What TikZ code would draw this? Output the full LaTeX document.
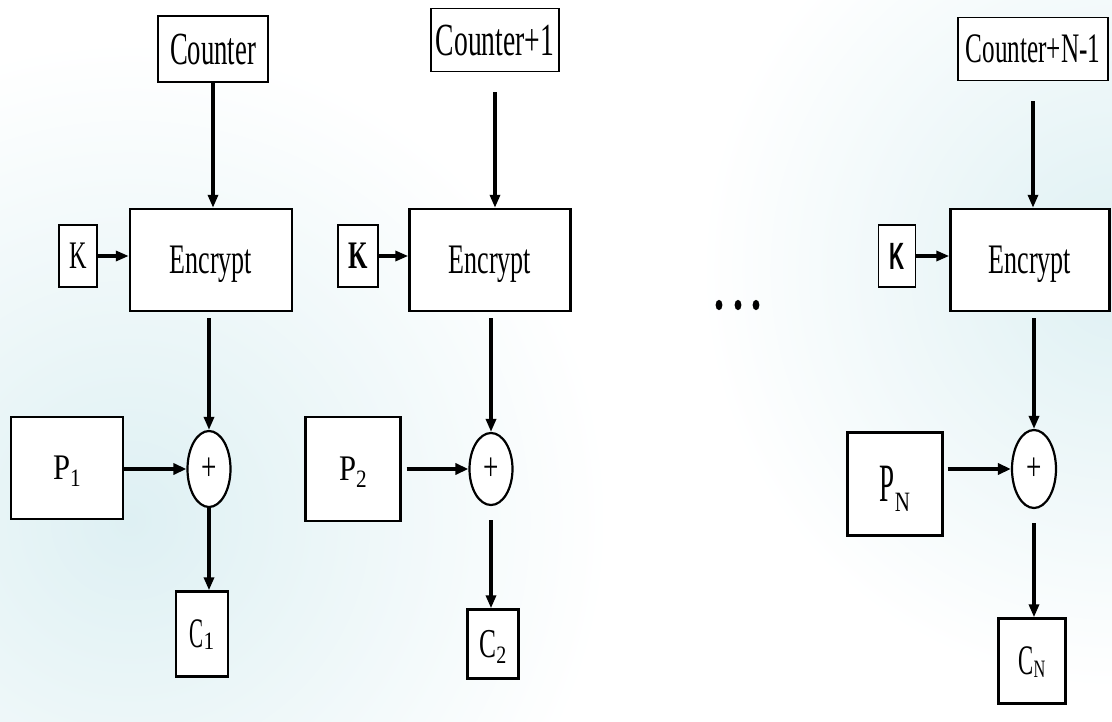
\documentclass[tikz,border=0pt]{standalone}
\usepackage{graphicx}
\usepackage{fontspec}
\setmainfont{Liberation Serif}
\setsansfont{Liberation Sans}
\usetikzlibrary{arrows.meta,shapes.geometric}

% font size shortcut, horizontal squeeze and lowered subscript
\newcommand\fs[1]{\fontsize{#1}{#1}\selectfont}
\newcommand\squeeze[2]{\scalebox{#1}[1]{#2}}
\newcommand\lowsub[3]{\raisebox{-#1pt}{\fs{#2}#3}}

\definecolor{haze}{RGB}{222,240,243}

\begin{document}
\begin{tikzpicture}[x=1pt,y=-1pt,
  box/.style={draw, line width=2.4pt, fill=white, inner sep=0pt, text depth=0pt},
  thinbox/.style={box, line width=1.6pt},
  xorop/.style={draw, ellipse, line width=2.2pt, fill=white, inner sep=0pt,
                minimum width=43, minimum height=76, text depth=0pt},
  arr/.style={line width=3.2pt, -{Triangle[length=13pt,width=10pt]}},
  parr/.style={line width=4.6pt, -{Triangle[length=13pt,width=11pt]}},
]
\useasboundingbox (0,0) rectangle (1112,722);

% soft background haze
\begin{scope}
  \clip (0,0) rectangle (620,722);
  \shade[inner color=haze, outer color=white] (130,520) circle (480pt);
\end{scope}
\begin{scope}
  \clip (620,0) rectangle (1112,722);
  \shade[inner color=haze, outer color=white] (1120,270) circle (420pt);
\end{scope}

% ---- block 1
\node[thinbox, minimum width=110, minimum height=66] (ctr1) at (213,49)
  {\fs{46}\squeeze{0.58}{Counter}};
\node[box, minimum width=162, minimum height=102] (enc1) at (211,260)
  {\fs{42}\squeeze{0.62}{Encrypt}};
\node[thinbox, minimum width=38, minimum height=62] (k1) at (78,256)
  {\fs{39}\squeeze{0.62}{K}};
\node[xorop] (x1) at (209,469) {\fs{40}\squeeze{0.68}{+}};
\node[box, minimum width=112, minimum height=102] (p1) at (67,468)
  {\squeeze{0.85}{\fs{36}P\lowsub{7}{25}{1}}};
\node[box, minimum width=52, minimum height=85] (c1) at (202,634)
  {\squeeze{0.5}{\fs{42}C}\squeeze{0.85}{\lowsub{2}{25}{1}}};

\draw[arr] (ctr1.south) -- (ctr1.south |- enc1.north);
\draw[arr] (k1.east) -- (k1.east -| enc1.west);
\draw[arr, shorten <=6pt] (x1.north |- enc1.south) -- (x1.north);
\draw[parr] (x1.west -| p1.east) -- (x1.west);
\draw[arr] (x1.south) -- (x1.south |- c1.north);

% ---- block 2
\node[thinbox, minimum width=128, minimum height=63] (ctr2) at (495,40)
  {\fs{46}\squeeze{0.6}{Counter+1}};
\node[box, minimum width=161, minimum height=102] (enc2) at (490,260)
  {\fs{42}\squeeze{0.62}{Encrypt}};
\node[thinbox, minimum width=40, minimum height=62] (k2) at (358,256)
  {\fs{39}\squeeze{0.64}{\bfseries K}};
\node[xorop, minimum height=72] (x2) at (491,469) {\fs{40}\squeeze{0.68}{+}};
\node[box, minimum width=95, minimum height=104] (p2) at (353,469)
  {\squeeze{0.85}{\fs{36}P\lowsub{7}{25}{2}}};
\node[box, minimum width=51, minimum height=69] (c2) at (493,644)
  {\squeeze{0.62}{\fs{41}C}\squeeze{0.8}{\lowsub{6}{25}{2}}};

\draw[arr, shorten <=20pt] (ctr2.south) -- (ctr2.south |- enc2.north);
\draw[arr] (k2.east) -- (k2.east -| enc2.west);
\draw[arr, shorten <=6pt] (x2.north |- enc2.south) -- (x2.north);
\draw[parr, shorten <=5pt] (x2.west -| p2.east) -- (x2.west);
\draw[arr, shorten <=14pt] (x2.south) -- (x2.south |- c2.north);

% ---- continuation dots
\fill (719,305) ellipse [x radius=3.4pt, y radius=5.2pt];
\fill (738,305) ellipse [x radius=3.4pt, y radius=5.2pt];
\fill (756,305) ellipse [x radius=3.4pt, y radius=5.2pt];

% ---- block N
\node[thinbox, minimum width=150, minimum height=63] (ctr3) at (1033,49)
  {\fs{42}\squeeze{0.6}{Counter+N-1}};
\node[box, minimum width=159, minimum height=102] (enc3) at (1030,260)
  {\fs{42}\squeeze{0.62}{Encrypt}};
\node[thinbox, minimum width=37, minimum height=62] (k3) at (897,256)
  {\fs{38}\squeeze{0.55}{\sffamily\bfseries K}};
\node[xorop, minimum width=44, minimum height=78] (x3) at (1034,469)
  {\fs{40}\squeeze{0.68}{+}};
\node[box, minimum width=95, minimum height=103] (p3) at (895,484)
  {\squeeze{0.5}{\fs{54}P}\squeeze{0.75}{\lowsub{10}{28}{N}}};
\node[box, minimum width=67, minimum height=85] (c3) at (1032,661)
  {\squeeze{0.54}{\fs{42}C}\squeeze{0.65}{\lowsub{3}{25}{N}}};

\draw[arr, shorten <=20pt] (ctr3.south) -- (ctr3.south |- enc3.north);
\draw[arr] (k3.east) -- (k3.east -| enc3.west);
\draw[arr, shorten <=6pt] (x3.north |- enc3.south) -- (x3.north);
\draw[parr, shorten <=4pt] (x3.west -| p3.east) -- (x3.west);
\draw[arr, shorten <=14pt] (x3.south) -- (x3.south |- c3.north);
\end{tikzpicture}
\end{document}
